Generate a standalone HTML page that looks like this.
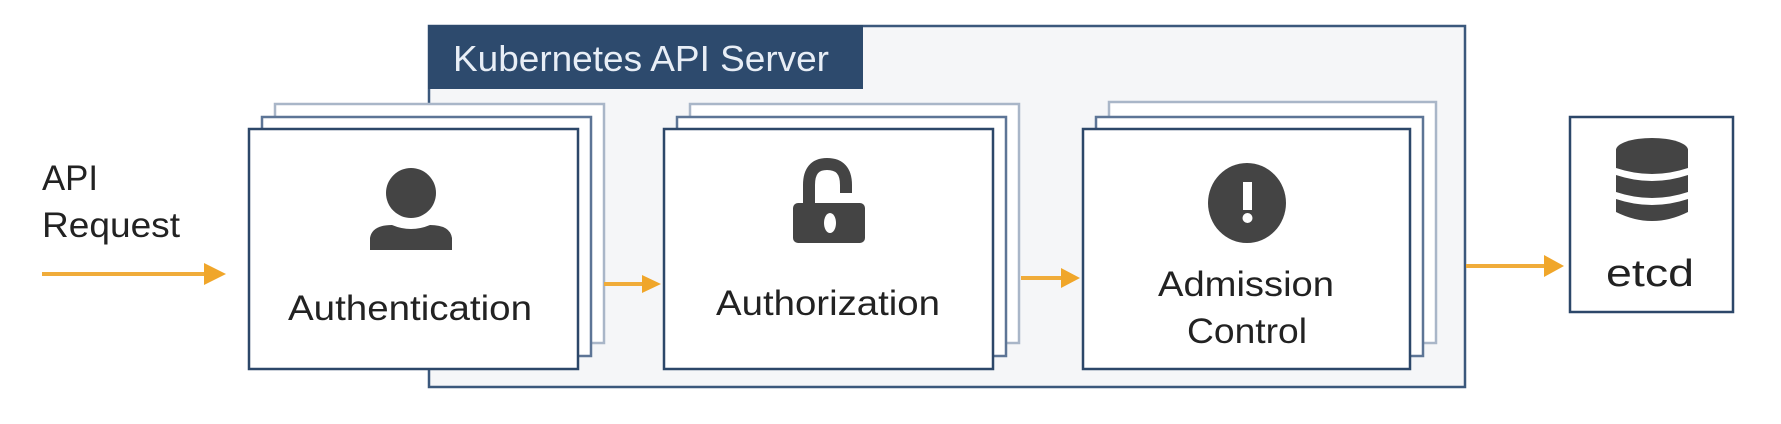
<!DOCTYPE html>
<html><head><style>html,body{margin:0;padding:0;background:#fff;}svg{display:block}</style></head>
<body>
<svg width="1781" height="424" viewBox="0 0 1781 424" xmlns="http://www.w3.org/2000/svg" font-family="Liberation Sans, sans-serif">
<rect x="0" y="0" width="1781" height="424" fill="#fff"/>
<!-- container -->
<rect x="429" y="26" width="1036" height="361" fill="#f5f6f8" stroke="#3b587c" stroke-width="2.5"/>
<rect x="428" y="25" width="435" height="64" fill="#2d4a6d"/>
<text x="453" y="71" font-size="36" fill="#e8eef6" textLength="376" lengthAdjust="spacingAndGlyphs">Kubernetes API Server</text>
<!-- stacks -->
<g fill="#fff" stroke-width="2.5">
<rect x="275" y="104" width="329" height="239" stroke="#a9b6c8"/>
<rect x="262" y="117" width="329" height="239" stroke="#5d7596"/>
<rect x="249" y="129" width="329" height="240" stroke="#2c4769"/>
<rect x="690" y="104" width="329" height="239" stroke="#a9b6c8"/>
<rect x="677" y="117" width="329" height="239" stroke="#5d7596"/>
<rect x="664" y="129" width="329" height="240" stroke="#2c4769"/>
<rect x="1109" y="102" width="327" height="241" stroke="#a9b6c8"/>
<rect x="1096" y="117" width="327" height="239" stroke="#5d7596"/>
<rect x="1083" y="129" width="327" height="240" stroke="#2c4769"/>
<rect x="1570" y="117" width="163" height="195" stroke="#2c4769"/>
</g>
<!-- arrows -->
<g stroke="#f0ac3a" stroke-width="4">
<line x1="42" y1="274" x2="206" y2="274"/>
<line x1="604" y1="284" x2="645" y2="284"/>
<line x1="1021" y1="278" x2="1064" y2="278"/>
<line x1="1466" y1="266" x2="1547" y2="266"/>
</g>
<g fill="#f0a62a">
<polygon points="204,263 226,274 204,285"/>
<polygon points="642,275 661,284 642,293"/>
<polygon points="1061,268 1080,278 1061,288"/>
<polygon points="1544,255 1564,266 1544,277"/>
</g>
<!-- text -->
<g fill="#222" font-size="35">
<text x="42" y="190" textLength="56" lengthAdjust="spacingAndGlyphs">API</text>
<text x="42" y="237" textLength="138" lengthAdjust="spacingAndGlyphs">Request</text>
<text x="288" y="320" textLength="244" lengthAdjust="spacingAndGlyphs">Authentication</text>
<text x="716" y="315" textLength="224" lengthAdjust="spacingAndGlyphs">Authorization</text>
<text x="1158" y="296" textLength="176" lengthAdjust="spacingAndGlyphs">Admission</text>
<text x="1187" y="343" textLength="120" lengthAdjust="spacingAndGlyphs">Control</text>
<text x="1606" y="286" font-size="38" textLength="88" lengthAdjust="spacingAndGlyphs">etcd</text>
</g>
<!-- icons -->
<g fill="#444">
<ellipse cx="411" cy="193" rx="25" ry="25"/>
<path d="M370,250 L370,238 Q372,225 392,225 Q411,233 430,225 Q450,225 452,238 L452,250 Z"/>
<path d="M809,205 L809,185 Q809,164 827,164 Q846,164 846,185 L846,193" fill="none" stroke="#444" stroke-width="12"/>
<rect x="793" y="203" width="72" height="40" rx="5"/>
<ellipse cx="830" cy="223" rx="6" ry="10" fill="#fff"/>
<ellipse cx="1247" cy="203" rx="39" ry="40"/>
<rect x="1243" y="182" width="9" height="28" fill="#fff"/>
<circle cx="1247.5" cy="218" r="5" fill="#fff"/>
<ellipse cx="1652" cy="150" rx="36" ry="12"/>
<path d="M1616,150 L1616,168 Q1652,180 1688,168 L1688,150 Z"/>
<path d="M1616,175 L1616,192 Q1652,204 1688,192 L1688,175 Q1652,187 1616,175 Z"/>
<path d="M1616,199 L1616,212 Q1652,230 1688,212 L1688,199 Q1652,211 1616,199 Z"/>
</g>
</svg>
</body></html>
